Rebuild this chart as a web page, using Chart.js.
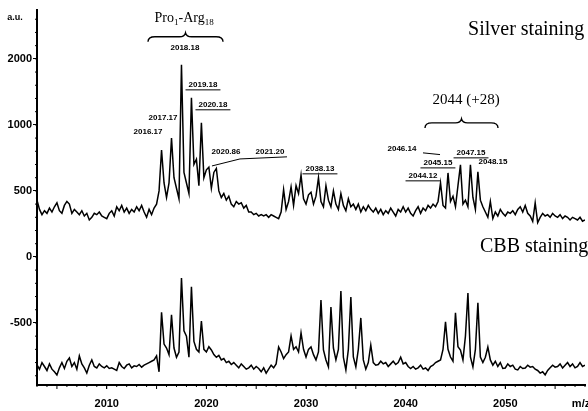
<!DOCTYPE html>
<html>
<head>
<meta charset="utf-8">
<script src="https://cdn.jsdelivr.net/npm/chart.js@4.4.1/dist/chart.umd.min.js"></script>
<style>
  html, body { margin: 0; padding: 0; background: #fff; }
  #wrap { width: 588px; height: 411px; }
</style>
</head>
<body>
<div id="wrap"><canvas id="chart"></canvas></div>
<script>
// m/z sampling of the two traces
const mzStart = 2003;
const mzStep = 0.25;

// silver stained sample (upper trace), a.u.
const silver = [
  430, 360, 320, 350, 330, 370, 340, 380, 410, 350,
  330, 390, 420, 400, 330, 360, 340, 320, 350, 310,
  330, 280, 300, 330, 320, 340, 310, 300, 290, 330,
  350, 310, 380, 350, 390, 340, 370, 330, 360, 340,
  380, 350, 390, 340, 300, 360, 320, 370, 400, 500,
  810, 560, 450, 560, 900, 600, 520, 440, 1455, 640,
  560, 480, 1205, 700, 740, 540, 1015, 600, 660, 680,
  520, 640, 670, 500, 450, 480, 430, 460, 400, 380,
  420, 400, 410, 370, 390, 340, 340, 320, 330, 310,
  320, 310, 320, 300, 320, 310, 300, 290, 340, 510,
  360, 420, 530, 390, 540, 480, 620, 440, 400, 470,
  490, 400, 460, 600, 420, 380, 540, 430, 380, 500,
  400, 360, 480, 390, 350, 440, 380, 400, 360, 400,
  340, 380, 350, 390, 360, 340, 370, 330, 360, 320,
  350, 330, 370, 340, 310, 360, 340, 380, 340, 370,
  330, 310, 350, 380, 330, 370, 350, 390, 370, 400,
  380, 420, 560, 390, 370, 636, 420, 460, 380, 540,
  697, 400, 430, 380, 697, 450, 360, 644, 430, 380,
  340, 300, 420, 290, 340, 310, 360, 330, 310, 340,
  330, 350, 320, 360, 380, 340, 390, 330, 310, 270,
  410, 260, 300, 330, 310, 320, 300, 330, 310, 300,
  320, 290, 310, 300, 280, 300, 290, 280, 300, 270, 280
];

// CBB stained sample (lower trace), a.u.
const cbb = [
  -818, -850, -800, -830, -860, -810, -850, -870, -894, -840,
  -800, -845, -790, -765, -830, -800, -850, -750, -810, -840,
  -879, -820, -780, -830, -841, -810, -830, -840, -825, -845,
  -840, -850, -860, -800, -830, -845, -820, -810, -840, -825,
  -830, -815, -835, -820, -810, -800, -790, -780, -750, -870,
  -420, -660, -690, -740, -439, -690, -760, -720, -159, -560,
  -600, -760, -227, -640, -700, -720, -485, -700, -720, -680,
  -705, -740, -760, -745, -780, -770, -800, -790, -815, -800,
  -820, -840, -810, -830, -850, -840, -820, -850, -830, -845,
  -870, -840, -880, -850, -820, -840, -810, -682, -720, -770,
  -740, -720, -598, -700, -680, -720, -576, -700, -758, -700,
  -682, -740, -780, -720, -326, -705, -780, -833, -379, -690,
  -780, -700, -258, -760, -856, -700, -303, -758, -833, -700,
  -462, -780, -850, -800, -667, -800, -820, -815, -790, -810,
  -800, -830, -810, -790, -815, -800, -760, -810, -800, -830,
  -845, -830, -850, -840, -820, -850, -841, -860, -830, -820,
  -800, -790, -780, -700, -492, -700, -758, -790, -424, -680,
  -705, -780, -600, -273, -758, -833, -700, -348, -758, -800,
  -760, -682, -780, -820, -790, -830, -800, -845, -841, -810,
  -830, -820, -850, -856, -830, -845, -841, -820, -835, -830,
  -850, -860, -880, -870, -894, -860, -840, -820, -835, -830,
  -810, -841, -820, -800, -830, -810, -840, -830, -800, -830, -820
];

const xTicks = [2010, 2020, 2030, 2040, 2050];
const yTicks = [-500, 0, 500, 1000, 1500];
const yTickLabels = ["-500", "0", "500", "1000", "2000"];

// peak labels
const peakNames = ["2016.17", "2017.17", "2018.18", "2019.18", "2020.18", "2020.86", "2021.20",
  "2038.13", "2046.14", "2047.15", "2048.15", "2045.15", "2044.12"];
const peakMz = [2014.14, 2015.65, 2017.85, 2019.66, 2020.66, 2021.97, 2026.38,
  2031.40, 2039.63, 2046.56, 2048.77, 2043.24, 2041.74];
const peakAu = [947, 1053, 1583, 1303, 1152, 795, 795, 667, 818, 788, 720, 712, 614];
const peakUnderlined = [false, false, false, true, true, false, false,
  true, false, true, false, true, true];

// leader lines
const leaderMz = [[2020.56, 2023.37, 2028.09], [2041.74, 2043.45]];
const leaderAu = [[689, 742, 758], [788, 775]];

const mz = silver.map((_, i) => mzStart + i * mzStep);

const drawBrace = (ctx, x1, x2, y) => {
  const xm = (x1 + x2) / 2;
  ctx.beginPath();
  ctx.moveTo(x1, y + 5);
  ctx.quadraticCurveTo(x1, y, x1 + 7, y);
  ctx.lineTo(xm - 6, y);
  ctx.quadraticCurveTo(xm - 1, y, xm, y - 4);
  ctx.quadraticCurveTo(xm + 1, y, xm + 6, y);
  ctx.lineTo(x2 - 7, y);
  ctx.quadraticCurveTo(x2, y, x2, y + 5);
  ctx.stroke();
};

const annotate = {
  id: "annotate",
  afterDraw(chart) {
    const { ctx, scales: { x, y } } = chart;
    ctx.save();
    ctx.fillStyle = "#000";
    ctx.strokeStyle = "#000";
    ctx.lineWidth = 1;

    // minor ticks
    for (let v = -900; v <= 1800; v += 100) {
      const py = y.getPixelForValue(v);
      ctx.beginPath();
      ctx.moveTo(x.left - 2, py);
      ctx.lineTo(x.left, py);
      ctx.stroke();
    }
    for (let v = 2003; v <= 2058; v += 1) {
      const px = x.getPixelForValue(v);
      ctx.beginPath();
      ctx.moveTo(px, y.bottom);
      ctx.lineTo(px, y.bottom + (v % 5 === 0 ? 4 : 2));
      ctx.stroke();
    }

    // axis unit labels
    ctx.font = "bold 9px 'Liberation Sans'";
    ctx.textAlign = "center";
    ctx.textBaseline = "middle";
    ctx.fillText("a.u.", x.left - 22, y.top + 8);
    ctx.font = "bold 11px 'Liberation Sans'";
    ctx.fillText("m/z", x.getPixelForValue(2057.6), y.bottom + 19);

    // peak labels
    ctx.font = "bold 8px 'Liberation Sans'";
    peakNames.forEach((name, i) => {
      const px = x.getPixelForValue(peakMz[i]);
      const py = y.getPixelForValue(peakAu[i]);
      ctx.fillText(name, px, py);
      if (peakUnderlined[i]) {
        const w = ctx.measureText(name).width;
        ctx.beginPath();
        ctx.moveTo(px - w / 2 - 3, py + 5);
        ctx.lineTo(px + w / 2 + 3, py + 5);
        ctx.stroke();
      }
    });
    leaderMz.forEach((line, k) => {
      ctx.beginPath();
      line.forEach((m, j) => {
        const px = x.getPixelForValue(m);
        const py = y.getPixelForValue(leaderAu[k][j]);
        if (j === 0) ctx.moveTo(px, py); else ctx.lineTo(px, py);
      });
      ctx.stroke();
    });

    // group labels
    ctx.lineWidth = 1.4;
    drawBrace(ctx, x.getPixelForValue(2014.14), x.getPixelForValue(2021.67), y.getPixelForValue(1667));
    drawBrace(ctx, x.getPixelForValue(2041.94), x.getPixelForValue(2049.27), y.getPixelForValue(1015));

    ctx.textBaseline = "alphabetic";
    ctx.textAlign = "left";
    let px = x.getPixelForValue(2014.8);
    const py = y.getPixelForValue(1780);
    const parts = [["Pro", 14, 0], ["1", 9, 3], ["-Arg", 14, 0], ["18", 9, 3]];
    parts.forEach(([t, size, drop]) => {
      ctx.font = size + "px 'Liberation Serif'";
      ctx.fillText(t, px, py + drop);
      px += ctx.measureText(t).width;
    });

    ctx.font = "15px 'Liberation Serif'";
    ctx.textAlign = "center";
    ctx.textBaseline = "middle";
    ctx.fillText("2044 (+28)", x.getPixelForValue(2046.06), y.getPixelForValue(1189));

    ctx.font = "20px 'Liberation Serif'";
    ctx.textAlign = "left";
    ctx.fillText("Silver staining", x.getPixelForValue(2046.26), y.getPixelForValue(1720));
    ctx.fillText("CBB staining", x.getPixelForValue(2047.46), y.getPixelForValue(76));
    ctx.restore();
  }
};

const tickFont = { family: "'Liberation Sans'", size: 11, weight: "bold" };

new Chart(document.getElementById("chart"), {
  type: "line",
  data: {
    datasets: [
      {
        data: silver.map((v, i) => ({ x: mz[i], y: v })),
        borderColor: "#000",
        borderWidth: 1.5,
        pointRadius: 0,
        tension: 0
      },
      {
        data: cbb.map((v, i) => ({ x: mz[i], y: v })),
        borderColor: "#000",
        borderWidth: 1.5,
        pointRadius: 0,
        tension: 0
      }
    ]
  },
  options: {
    responsive: true,
    maintainAspectRatio: false,
    animation: false,
    layout: { padding: { top: 10, right: 3 } },
    plugins: {
      legend: { display: false },
      tooltip: { enabled: false }
    },
    scales: {
      x: {
        type: "linear",
        min: 2003,
        max: 2058,
        afterFit: (s) => { s.height = 26; },
        afterBuildTicks: (s) => { s.ticks = xTicks.map((v) => ({ value: v })); },
        grid: { drawOnChartArea: false, tickLength: 4, color: "#000" },
        border: { color: "#000", width: 2 },
        ticks: {
          font: tickFont,
          color: "#000",
          padding: 8,
          autoSkip: false,
          maxRotation: 0,
          callback: (v) => String(v)
        }
      },
      y: {
        min: -970,
        max: 1870,
        afterFit: (s) => { s.width = 37; },
        afterBuildTicks: (s) => { s.ticks = yTicks.map((v) => ({ value: v })); },
        grid: { drawOnChartArea: false, tickLength: 4, color: "#000" },
        border: { color: "#000", width: 2 },
        ticks: {
          font: tickFont,
          color: "#000",
          padding: 1,
          callback: (v) => yTickLabels[yTicks.indexOf(v)]
        }
      }
    }
  },
  plugins: [annotate]
});
</script>
</body>
</html>
